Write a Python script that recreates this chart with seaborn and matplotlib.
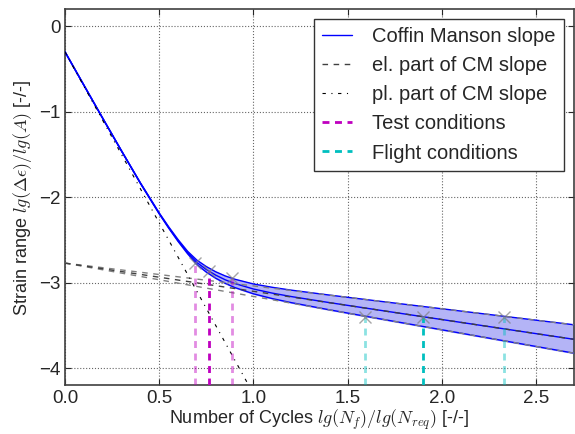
import numpy as np
import pandas as pd
import matplotlib
matplotlib.use("Agg")
import matplotlib.pyplot as plt
import seaborn as sns

# Coffin Manson curves (mean, upper and lower band)
cm_x = [0.0, 0.1, 0.2, 0.3, 0.4, 0.5, 0.55, 0.6, 0.65, 0.7, 0.75, 0.8,
        0.85, 0.9, 1.0, 1.1, 1.2, 1.4, 1.7, 2.0, 2.7]
cm_mean = [-0.30, -0.689, -1.076, -1.459, -1.835, -2.189, -2.354, -2.507,
           -2.646, -2.763, -2.845, -2.911, -2.965, -3.008, -3.073, -3.121,
           -3.161, -3.231, -3.331, -3.430, -3.661]
cm_upper = [-0.30, -0.689, -1.076, -1.458, -1.832, -2.185, -2.346, -2.496,
            -2.631, -2.736, -2.811, -2.872, -2.920, -2.958, -3.014, -3.053,
            -3.086, -3.143, -3.224, -3.304, -3.491]
cm_lower = [-0.30, -0.689, -1.077, -1.460, -1.837, -2.194, -2.360, -2.516,
            -2.659, -2.787, -2.875, -2.947, -3.006, -3.055, -3.129, -3.185,
            -3.232, -3.315, -3.433, -3.550, -3.823]

# elastic part (straight lines), end points
el_x = [0.0, 2.7]
el_mean = [-2.77, -3.661]
el_upper = [-2.77, -3.491]
el_lower = [-2.77, -3.823]

# plastic part (straight line), end points
pl_x = [0.0, 1.0]
pl_y = [-0.30, -4.30]

# test and flight conditions (lower band, mean, upper band)
test_x = [0.689, 0.764, 0.884]
test_y = [-2.77, -2.86, -2.95]
flight_x = [1.59, 1.90, 2.33]
flight_y = [-3.40, -3.40, -3.40]

x_ticks = [0.0, 0.5, 1.0, 1.5, 2.0, 2.5]
y_ticks = [0, -1, -2, -3, -4]

sns.set_style("ticks")
plt.rcParams['font.family'] = ['Liberation Sans', 'DejaVu Sans']
plt.rcParams['mathtext.fontset'] = 'cm'

df = pd.DataFrame({"x": cm_x, "mean": cm_mean, "upper": cm_upper, "lower": cm_lower})

fig = plt.figure(figsize=(5.75, 4.34), dpi=100)
ax = fig.add_axes([0.113, 0.112, 0.885, 0.867])
ymin, ymax = -4.2, 0.2

# band
ax.fill_between(df["x"], df["lower"], df["upper"], color="#b4b4f6", zorder=1)

for col in ["upper", "lower"]:
    sns.lineplot(data=df, x="x", y=col, ax=ax, color="b", lw=1, zorder=3)
sns.lineplot(data=df, x="x", y="mean", ax=ax, color="b", lw=1, zorder=3)
h_cm = ax.lines[-1]

# elastic parts
ax.plot(el_x, el_upper, color="0.5", ls="--", dashes=(4, 4), lw=1, zorder=4)
ax.plot(el_x, el_lower, color="0.5", ls="--", dashes=(4, 4), lw=1, zorder=4)
h_el, = ax.plot(el_x, el_mean, color="0.25", ls="--", dashes=(4, 4), lw=1, zorder=4)

# plastic part
h_pl, = ax.plot(pl_x, pl_y, color="k", ls="-.", dashes=(3, 5, 1, 5), lw=0.8, zorder=4)

# test / flight conditions
alphas = [0.45, 1.0, 0.45]
for i in range(3):
    h_t, = ax.plot([test_x[i], test_x[i]], [ymin, test_y[i]], color="m",
                   alpha=alphas[i], lw=2, dashes=(2.5, 2), zorder=5)
    if i == 1:
        h_test = h_t
    h_f, = ax.plot([flight_x[i], flight_x[i]], [ymin, flight_y[i]], color="c",
                   alpha=alphas[i], lw=2, dashes=(2.5, 2), zorder=5)
    if i == 1:
        h_flight = h_f
ax.plot(test_x, test_y, "x", color="0.5", alpha=0.7, ms=9, mew=1, ls="none", zorder=6)
ax.plot(flight_x, flight_y, "x", color="0.5", alpha=0.7, ms=9, mew=1, ls="none", zorder=6)

ax.set_xlim(0, 2.7)
ax.set_ylim(ymin, ymax)
ax.set_xticks(x_ticks)
ax.set_yticks(y_ticks)
ax.grid(True, color="0.4", ls=":", lw=0.8)
ax.tick_params(direction="in", top=True, right=True, length=4, labelsize=13.5, pad=3)
for s in ax.spines.values():
    s.set_color("0.25")
    s.set_linewidth(1.2)

ax.set_xlabel(r"Number of Cycles $lg(N_f)/lg(N_{req})$ [-/-]", fontsize=13, labelpad=1)
ax.set_ylabel(r"Strain range $lg(\Delta\epsilon)/lg(A)$ [-/-]", fontsize=13, labelpad=4)

leg = ax.legend([h_cm, h_el, h_pl, h_test, h_flight],
                ["Coffin Manson slope", "el. part of CM slope", "pl. part of CM slope",
                 "Test conditions", "Flight conditions"],
                loc="upper right", fontsize=14.5, fancybox=False, framealpha=1,
                labelspacing=0.5, borderaxespad=0.5, handlelength=1.5,
                handletextpad=1.0)
leg.get_frame().set_edgecolor("0.2")
leg.get_frame().set_linewidth(1)

fig.savefig("out.png", dpi=100)
